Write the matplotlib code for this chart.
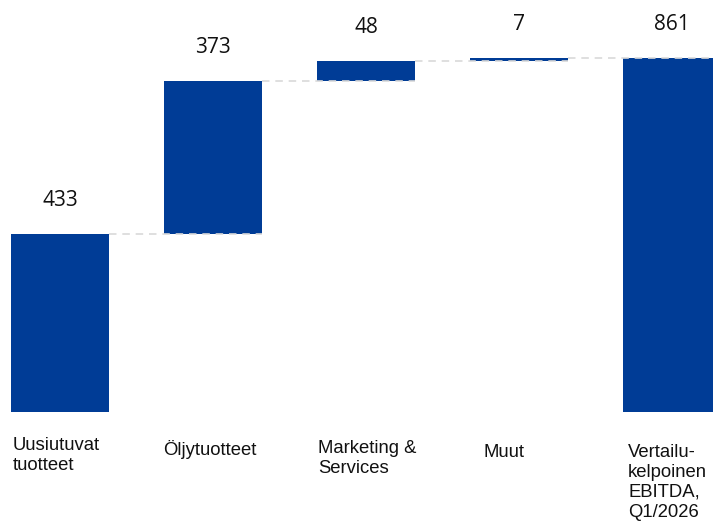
import matplotlib
matplotlib.use("Agg")
import matplotlib.pyplot as plt

categories = ["Uusiutuvat\ntuotteet", "Öljytuotteet", "Marketing &\nServices", "Muut",
              "Vertailu-\nkelpoinen\nEBITDA,\nQ1/2026"]
values = [433, 373, 48, 7, 861]
is_total = [False, False, False, False, True]
value_labels = ["433", "373", "48", "7", "861"]

BAR_COLOR = "#003C96"
LINE_COLOR = "#D9D9D9"

fig = plt.figure(figsize=(7.13, 5.22), dpi=100)
ax = fig.add_axes([0, 0, 1, 1])
ax.set_xlim(-0.392, 4.268)
ax.set_ylim(-267.6, 1002.1)
ax.axis("off")

width = 0.64
bottoms, tops = [], []
cum = 0
for v, tot in zip(values, is_total):
    if tot:
        b, t = 0, v
        cum = v
    else:
        b, t = cum, cum + v
        cum = t
    bottoms.append(b)
    tops.append(t)

xs = list(range(len(values)))
ax.bar(xs, [t - b for b, t in zip(bottoms, tops)], bottom=bottoms, width=width,
       color=BAR_COLOR, zorder=2)

# connector lines
for i in range(len(values) - 1):
    level = tops[i]
    ax.plot([xs[i] + width / 2, xs[i + 1] + width / 2], [level, level],
            color=LINE_COLOR, lw=1.2, dashes=(4.5, 3.5), zorder=3)

# value labels
for x, t, lab in zip(xs, tops, value_labels):
    ax.annotate(lab, xy=(x, t), xytext=(0, 20), textcoords="offset points",
                ha="center", va="baseline", fontsize=15, family="Open Sans",
                color="#111111")

# category labels
dx_pt = [1.4, -0.7, 0.7, 9.4, 3.6]
dy_pt = [-18.2, -20.4, -20.4, -23.3, -23.0]
for x, lab, dx, dy in zip(xs, categories, dx_pt, dy_pt):
    ax.annotate(lab, xy=(x - width / 2, 0), xytext=(dx, dy), textcoords="offset points",
                ha="left", va="top", fontsize=13.3, family="Liberation Sans",
                color="#111111", linespacing=1.22)

fig.savefig("out.png", dpi=100)
